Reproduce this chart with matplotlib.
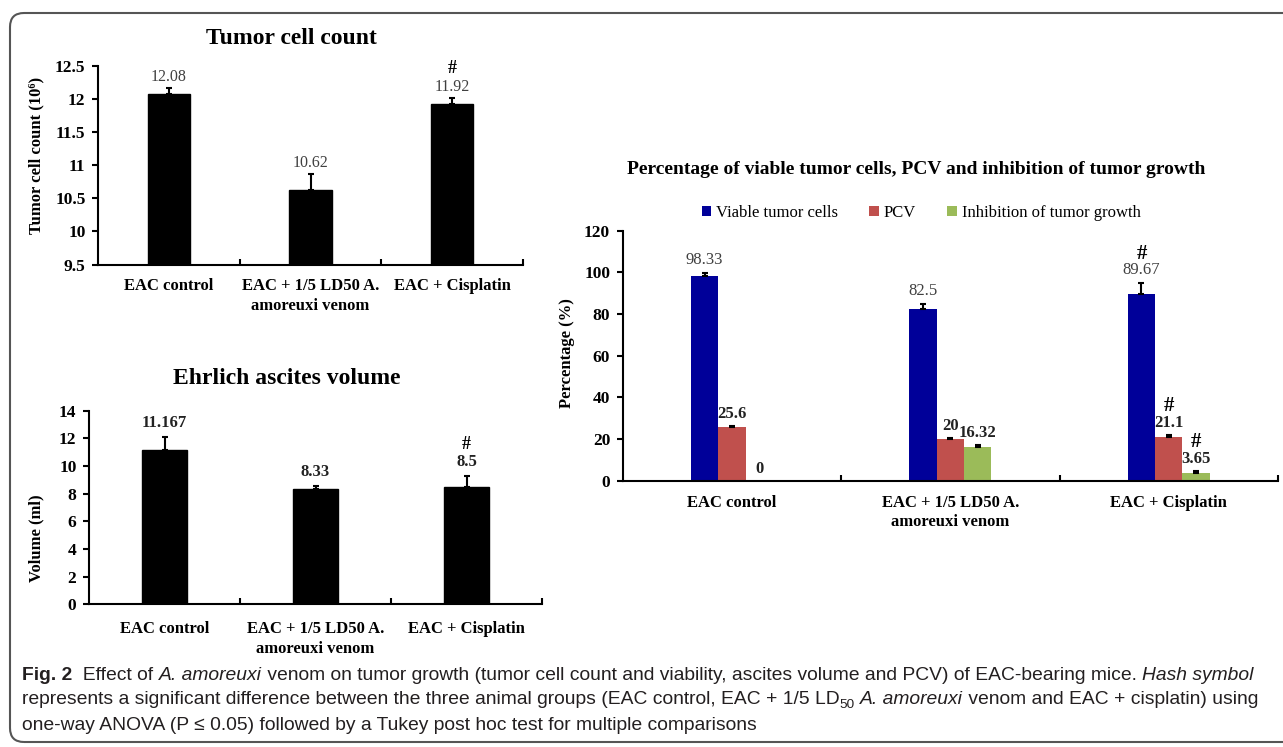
import matplotlib
matplotlib.use('Agg')
import matplotlib.pyplot as plt
from matplotlib.patches import FancyBboxPatch, Patch
from matplotlib.ticker import FuncFormatter
from matplotlib.transforms import IdentityTransform

plt.rcParams['font.family'] = ['Liberation Serif', 'DejaVu Serif']

W, H = 1283, 747

groups = ['EAC control', 'EAC + 1/5 LD50 A.\namoreuxi venom', 'EAC + Cisplatin']

cell_count = [12.08, 10.62, 11.92]
cell_err = [0.09, 0.25, 0.09]
cell_sig = ['', '', '#']

ascites = [11.167, 8.33, 8.5]
ascites_err = [0.92, 0.25, 0.75]
ascites_sig = ['', '', '#']

viable = [98.33, 82.5, 89.67]
viable_err = [1.5, 2.3, 5.1]
viable_sig = ['', '', '#']

pcv = [25.6, 20, 21.1]
pcv_err = [0.8, 0.5, 0.8]
pcv_sig = ['', '', '#']

inhibition = [0, 16.32, 3.65]
inhibition_err = [0, 1.0, 0.9]
inhibition_sig = ['', '', '#']

series_names = ['Viable tumor cells', 'PCV', 'Inhibition of tumor growth']
series_colors = ['#000099', '#C0504D', '#9BBB59']


def px_axes(fig, x0, x1, y_top, y_bot):
    # pixel box -> figure fractions
    return fig.add_axes([x0 / W, 1 - y_bot / H, (x1 - x0) / W, (y_bot - y_top) / H])


def style_axes(ax, ylim, yticks, xpad=10):
    for s in ['top', 'right']:
        ax.spines[s].set_visible(False)
    for s in ['left', 'bottom']:
        ax.spines[s].set_linewidth(1.5)
    ax.set_xlim(-0.5, 2.5)
    ax.set_ylim(*ylim)
    ax.set_yticks(yticks)
    ax.yaxis.set_major_formatter(FuncFormatter(lambda v, p: '%g' % v))
    ax.tick_params(axis='y', direction='out', length=4, width=1.5, pad=5, labelsize=12.5)
    ax.set_xticks(range(3))
    ax.set_xticklabels(groups, linespacing=1.3)
    ax.set_xticks([0.5, 1.5, 2.5], minor=True)
    ax.tick_params(axis='x', which='major', length=0, pad=xpad, labelsize=12)
    ax.tick_params(axis='x', which='minor', direction='in', length=4, width=1.5)
    for lab in ax.get_xticklabels() + ax.get_yticklabels():
        lab.set_fontweight('bold')


def label_bars(ax, xs, vals, errs, sigs, color, weight, size, gap=12, sig_gap=17, sig_size=13):
    for x, v, e, s in zip(xs, vals, errs, sigs):
        ax.annotate('%g' % v, (x, v + e), xytext=(0, gap), textcoords='offset pixels',
                    ha='center', va='center', fontsize=size, color=color, fontweight=weight)
        if s:
            ax.annotate(s, (x, v + e), xytext=(0, gap + sig_gap), textcoords='offset pixels',
                        ha='center', va='center', fontsize=sig_size, color='black', fontweight='bold')


def err_bars(ax, xs, vals, errs, cap=2.5):
    ax.errorbar(xs, vals, yerr=[[0] * len(errs), errs], fmt='none', ecolor='black',
                elinewidth=1.5, capsize=cap, capthick=1.5)


fig = plt.figure(figsize=(W / 100, H / 100), dpi=100)

# border
border = FancyBboxPatch((10, H - 742), 1300, 729, boxstyle='round,pad=0,rounding_size=14',
                        transform=IdentityTransform(), fill=False, edgecolor='#555555', linewidth=1.5)
fig.add_artist(border)

x = [0, 1, 2]

# --- Tumor cell count
ax1 = px_axes(fig, 98, 523, 65.7, 264.5)
ax1.bar(x, [v - 9.5 for v in cell_count], bottom=9.5, width=0.30, color='black', edgecolor='black')
err_bars(ax1, x, cell_count, cell_err)
style_axes(ax1, (9.5, 12.5), [9.5, 10, 10.5, 11, 11.5, 12, 12.5])
label_bars(ax1, x, cell_count, cell_err, cell_sig, '#404040', 'normal', 11.5, gap=11, sig_gap=19)
fig.text(291 / W, 1 - 38 / H, 'Tumor cell count', ha='center', va='center', fontsize=17, fontweight='bold')
fig.text(36 / W, 1 - 155 / H, 'Tumor cell count (10\u2076)', ha='center', va='center', rotation=90,
         fontsize=12, fontweight='bold')

# --- Ehrlich ascites volume
ax2 = px_axes(fig, 89, 542, 410.7, 604.3)
ax2.bar(x, ascites, width=0.30, color='black', edgecolor='black')
err_bars(ax2, x, ascites, ascites_err)
style_axes(ax2, (0, 14), range(0, 15, 2), xpad=12)
label_bars(ax2, x, ascites, ascites_err, ascites_sig, '#222222', 'bold', 12, gap=14, sig_gap=18)
fig.text(287 / W, 1 - 378 / H, 'Ehrlich ascites volume', ha='center', va='center', fontsize=17, fontweight='bold')
fig.text(36 / W, 1 - 538 / H, 'Volume (ml)', ha='center', va='center', rotation=90,
         fontsize=12, fontweight='bold')

# --- Percentages
ax3 = px_axes(fig, 622.7, 1278, 230.7, 480.7)
bw = 0.125
offsets = [-bw, 0, bw]
all_vals = [viable, pcv, inhibition]
all_errs = [viable_err, pcv_err, inhibition_err]
all_sigs = [viable_sig, pcv_sig, inhibition_sig]
for k in range(3):
    xs = [i + offsets[k] for i in x]
    ax3.bar(xs, all_vals[k], width=bw, color=series_colors[k], edgecolor='none')
    err_bars(ax3, [xs[i] for i in range(3) if all_errs[k][i] > 0],
             [all_vals[k][i] for i in range(3) if all_errs[k][i] > 0],
             [e for e in all_errs[k] if e > 0], cap=2.5)
    if k == 0:
        label_bars(ax3, xs, all_vals[k], all_errs[k], all_sigs[k], '#404040', 'normal', 12,
                   gap=13, sig_gap=16, sig_size=15)
    else:
        label_bars(ax3, xs, all_vals[k], all_errs[k], all_sigs[k], '#222222', 'bold', 12,
                   gap=12, sig_gap=17, sig_size=15)
style_axes(ax3, (0, 120), range(0, 121, 20))
fig.text(916.5 / W, 1 - 170 / H, 'Percentage of viable tumor cells, PCV and inhibition of tumor growth',
         ha='center', va='center', fontsize=14, fontweight='bold')
fig.text(567 / W, 1 - 353 / H, 'Percentage (%)', ha='center', va='center', rotation=90,
         fontsize=12, fontweight='bold')
handles = [Patch(facecolor=c, edgecolor='none') for c in series_colors]
fig.legend(handles, series_names, loc='center', bbox_to_anchor=(921 / W, 1 - 213 / H), ncol=3,
           frameon=False, fontsize=12, handlelength=0.55, handleheight=0.55, handletextpad=0.3,
           columnspacing=1.9)

# --- caption
cap_font = ['Liberation Sans Narrow', 'Liberation Sans', 'DejaVu Sans']
cap_color = '#231f20'
line1 = [('Fig. 2', {'fontweight': 'bold'}), ('  Effect of ', {}), ('A. amoreuxi', {'fontstyle': 'italic'}),
         (' venom on tumor growth (tumor cell count and viability, ascites volume and PCV) of EAC-bearing mice. ', {}),
         ('Hash symbol', {'fontstyle': 'italic'})]
line2 = [('represents a significant difference between the three animal groups (EAC control, EAC + 1/5 LD', {}),
         ('50', {'sub': True}), (' ', {}), ('A. amoreuxi', {'fontstyle': 'italic'}),
         (' venom and EAC + cisplatin) using', {})]
line3 = [('one-way ANOVA (P \u2264 0.05) followed by a Tukey post hoc test for multiple comparisons', {})]

renderer = fig.canvas.get_renderer()


def draw_runs(x0, y, runs, size, draw=True):
    xcur = x0
    made = []
    for txt, kw in runs:
        kw = dict(kw)
        sub = kw.pop('sub', False)
        fs = size * 0.7 if sub else size
        yy = y + (5 if sub else 0)
        t = fig.text(xcur / W, 1 - yy / H, txt, ha='left', va='center', fontsize=fs,
                     family=cap_font, color=cap_color, **kw)
        xcur += t.get_window_extent(renderer).width
        made.append(t)
    if not draw:
        for t in made:
            t.remove()
    return xcur - x0


base = 12
w1 = draw_runs(22, 675, line1, base, draw=False)
cap_size = base * (1255 - 22) / w1
draw_runs(22, 675, line1, cap_size)
draw_runs(22, 700, line2, cap_size)
draw_runs(22, 725, line3, cap_size)

fig.savefig('out.png', dpi=100)
